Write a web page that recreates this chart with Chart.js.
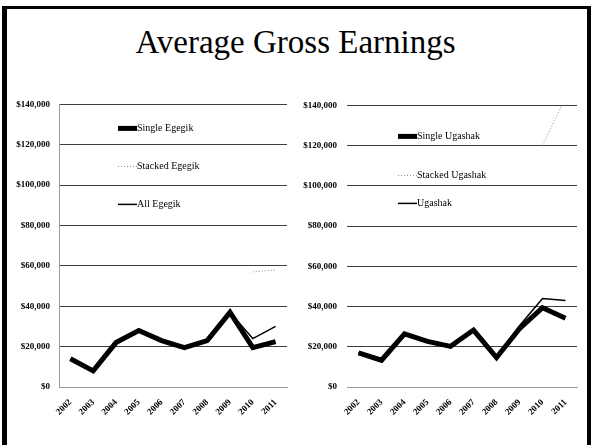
<!DOCTYPE html>
<html>
<head>
<meta charset="utf-8">
<script src="https://cdn.jsdelivr.net/npm/chart.js@4.4.1/dist/chart.umd.min.js"></script>
<style>
  html, body { margin: 0; padding: 0; background: #fff; }
  #slide { position: relative; width: 591px; height: 445px; overflow: hidden; }
  #frame {
    position: absolute; left: 2px; top: 6px; width: 589px; height: 445px;
    box-sizing: border-box; border-left: 5px solid #000; border-right: 4px solid #000; border-top: 3px solid #000;
  }
  #title {
    position: absolute; left: 0; top: 26px; width: 591px; text-align: center;
    font-family: "Liberation Serif", serif; font-size: 33px; line-height: 33px; color: #000;
  }
  canvas { position: absolute; }
</style>
</head>
<body>
<div id="slide">
  <div id="frame"></div>
  <div id="title">Average Gross Earnings</div>
  <canvas id="egegik" width="295" height="355" style="left:0;top:90px"></canvas>
  <canvas id="ugashak" width="296" height="355" style="left:295px;top:90px"></canvas>
</div>
<script>
// values
const years = ['2002', '2003', '2004', '2005', '2006', '2007', '2008', '2009', '2010', '2011'];
const yTicks = [0, 20000, 40000, 60000, 80000, 100000, 120000, 140000];

const singleEgegik  = [14000, 8000, 22000, 28000, 23000, 19500, 23000, 37000, 19500, 22500];
const stackedEgegik = [null, null, null, null, null, null, null, null, 57000, 58000];
const allEgegik     = [14000, 8000, 22000, 28000, 23000, 19500, 23000, 37000, 24000, 30000];

const singleUgashak  = [17000, 13300, 26400, 22700, 20200, 28300, 14600, 29000, 39400, 34200];
const stackedUgashak = [null, null, null, null, null, null, null, null, 120000, 144000];
const allUgashak     = [17000, 13300, 26400, 22700, 20200, 28300, 14600, 30500, 44000, 43000];

const serif = '"Liberation Serif", serif';

// legend drawn inside the plot area, like the slide
const inlineLegend = {
    id: 'inlineLegend',
    afterDatasetsDraw(chart, args, o) {
        const ctx = chart.ctx;
        const area = chart.chartArea;
        ctx.save();
        chart.data.datasets.forEach((ds, i) => {
            const x0 = area.left + o.x;
            const y = area.top + o.rows[i];
            ctx.beginPath();
            ctx.lineWidth = ds.borderWidth;
            ctx.strokeStyle = ds.borderColor;
            ctx.setLineDash(ds.borderDash || []);
            ctx.moveTo(x0, y);
            ctx.lineTo(x0 + o.sample, y);
            ctx.stroke();
            ctx.setLineDash([]);
            ctx.fillStyle = '#000';
            ctx.font = '10px ' + serif;
            ctx.textBaseline = 'middle';
            ctx.fillText(ds.label, x0 + o.sample, y);
        });
        ctx.restore();
    }
};

function makeChart(id, labels, single, stacked, all, lay) {
    const ctx = document.getElementById(id).getContext('2d');
    return new Chart(ctx, {
        type: 'line',
        data: {
            labels: years,
            datasets: [{
                label: labels[0],
                data: single,
                borderColor: '#000',
                borderWidth: 5,
                pointRadius: 0,
                tension: 0
            }, {
                label: labels[1],
                data: stacked,
                borderColor: '#8a8a8a',
                borderWidth: 1,
                borderDash: [1, 2],
                pointRadius: 0,
                tension: 0
            }, {
                label: labels[2],
                data: all,
                borderColor: '#000',
                borderWidth: 1.5,
                pointRadius: 0,
                tension: 0
            }]
        },
        options: {
            responsive: false,
            animation: false,
            devicePixelRatio: 1,
            layout: { padding: { top: 9, right: lay.padRight, left: 0, bottom: 0 } },
            plugins: {
                legend: { display: false },
                tooltip: { enabled: false },
                inlineLegend: { x: lay.legendX, rows: lay.rows, sample: 19 }
            },
            scales: {
                x: {
                    offset: true,
                    grid: { display: false },
                    border: { display: true, color: '#9a9a9a' },
                    ticks: {
                        color: '#000',
                        font: { family: serif, size: 9, weight: 'bold' },
                        minRotation: 45,
                        maxRotation: 45,
                        padding: 2
                    },
                    afterFit(scale) { scale.height = 58; }
                },
                y: {
                    min: 0,
                    max: 140000,
                    afterBuildTicks(scale) { scale.ticks = yTicks.map(v => ({ value: v })); },
                    grid: {
                        drawTicks: false,
                        lineWidth: 1,
                        color: c => (c.tick && c.tick.value === 0) ? 'rgba(0,0,0,0)' : '#3c3c3c'
                    },
                    border: lay.yBorder,
                    ticks: {
                        color: '#000',
                        padding: lay.tickPad,
                        font: { family: serif, size: 9, weight: 'bold' },
                        callback: v => '$' + Number(v).toLocaleString('en-US')
                    },
                    afterFit(scale) { scale.width = lay.axisWidth; }
                }
            }
        },
        plugins: [inlineLegend]
    });
}

makeChart('egegik', ['Single Egegik', 'Stacked Egegik', 'All Egegik'],
    singleEgegik, stackedEgegik, allEgegik,
    { padRight: 8, axisWidth: 59, tickPad: 9, legendX: 59, rows: [24, 62, 100],
      yBorder: { display: true, color: '#9a9a9a' } });

makeChart('ugashak', ['Single Ugashak', 'Stacked Ugashak', 'Ugashak'],
    singleUgashak, stackedUgashak, allUgashak,
    { padRight: 14, axisWidth: 52, tickPad: 10, legendX: 51, rows: [31, 70, 98],
      yBorder: { display: false } });
</script>
</body>
</html>
